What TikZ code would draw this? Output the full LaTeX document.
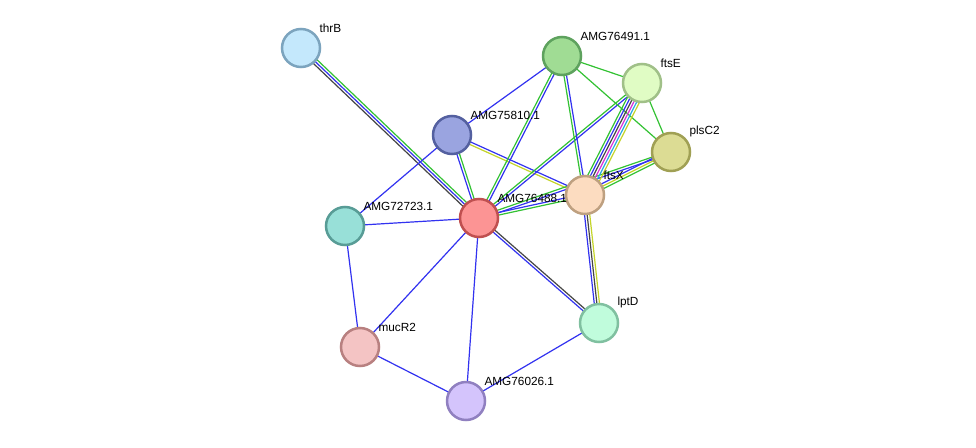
\documentclass[tikz,border=0pt]{standalone}
\usepackage{fontspec}
\setmainfont{Liberation Sans}
\usetikzlibrary{calc,backgrounds}
\definecolor{eblue}{HTML}{3232F0}
\definecolor{egreen}{HTML}{33C233}
\definecolor{egray}{HTML}{454545}
\definecolor{emag}{HTML}{D832D8}
\definecolor{ecyan}{HTML}{2AAAE0}
\definecolor{eyel}{HTML}{C4D428}
\tikzset{
  prot/.style={circle, minimum size=38pt, inner sep=0pt, line width=2.5pt},
  lab/.style={anchor=south west, inner sep=0pt, xshift=4pt, yshift=1pt, font=\fontsize{11.8}{14}\selectfont, text=black},
  edge/.style={line width=1.2pt},
}
\newcommand\medge[4]{%
  \foreach \c [count=\i] in {#4}{%
    \pgfmathsetmacro\off{((#3+1)/2-\i)*2.6}%
    \draw[edge,\c] ($(#1.center)!\off pt!90:(#2.center)$) -- ($(#2.center)!\off pt!-90:(#1.center)$);
  }}
\begin{document}
\begin{tikzpicture}[x=1pt,y=-1pt]
\useasboundingbox (0,0) rectangle (976,447);
\node[prot, fill={rgb,255:red,196;green,232;blue,252}, draw={rgb,255:red,124;green,164;blue,190}, label={[lab]north east:thrB}] (thrB) at (301,48) {};
\node[prot, fill={rgb,255:red,160;green,220;blue,148}, draw={rgb,255:red,94;green,162;blue,94}, label={[lab]north east:AMG76491.1}] (A91) at (562,56) {};
\node[prot, fill={rgb,255:red,224;green,252;blue,196}, draw={rgb,255:red,160;green,192;blue,136}, label={[lab]north east:ftsE}] (ftsE) at (642,83) {};
\node[prot, fill={rgb,255:red,220;green,220;blue,148}, draw={rgb,255:red,160;green,160;blue,84}, label={[lab]north east:plsC2}] (plsC2) at (671,152) {};
\node[prot, fill={rgb,255:red,154;green,164;blue,224}, draw={rgb,255:red,84;green,96;blue,160}, label={[lab]north east:AMG75810.1}] (A10) at (452,135) {};
\node[prot, fill={rgb,255:red,252;green,220;blue,192}, draw={rgb,255:red,190;green,160;blue,128}, label={[lab]north east:ftsX}] (ftsX) at (585,195) {};
\node[prot, fill={rgb,255:red,252;green,148;blue,148}, draw={rgb,255:red,192;green,80;blue,80}, label={[lab]north east:AMG76488.1}] (A88) at (479,218) {};
\node[prot, fill={rgb,255:red,152;green,224;blue,216}, draw={rgb,255:red,88;green,156;blue,150}, label={[lab]north east:AMG72723.1}] (A23) at (345,226) {};
\node[prot, fill={rgb,255:red,192;green,252;blue,220}, draw={rgb,255:red,128;green,192;blue,160}, label={[lab]north east:lptD}] (lptD) at (599,323) {};
\node[prot, fill={rgb,255:red,244;green,196;blue,196}, draw={rgb,255:red,184;green,128;blue,128}, label={[lab]north east:mucR2}] (mucR2) at (360,347) {};
\node[prot, fill={rgb,255:red,212;green,196;blue,252}, draw={rgb,255:red,144;green,128;blue,192}, label={[lab]north east:AMG76026.1}] (A26) at (466,401) {};
\begin{scope}[on background layer]
\fill[white] (0,0) rectangle (976,447);
\medge{thrB}{A88}{3}{egreen,eblue,egray}
\medge{A10}{A88}{2}{egreen,eblue}
\medge{A10}{A23}{1}{eblue}
\medge{A10}{A91}{1}{eblue}
\medge{A10}{ftsX}{2}{eblue,eyel}
\medge{A88}{A23}{1}{eblue}
\medge{A88}{A91}{2}{egreen,eblue}
\medge{A88}{ftsE}{2}{egreen,eblue}
\medge{A88}{ftsX}{2}{eblue,egreen}
\medge{A88}{plsC2}{2}{egreen,eblue}
\medge{A88}{lptD}{2}{egray,eblue}
\medge{A88}{mucR2}{1}{eblue}
\medge{A88}{A26}{1}{eblue}
\medge{A23}{mucR2}{1}{eblue}
\medge{mucR2}{A26}{1}{eblue}
\medge{A26}{lptD}{1}{eblue}
\medge{ftsX}{lptD}{3}{eyel,egray,eblue}
\medge{A91}{ftsX}{2}{eblue,egreen}
\medge{A91}{ftsE}{1}{egreen}
\medge{A91}{plsC2}{1}{egreen}
\medge{ftsE}{plsC2}{1}{egreen}
\medge{ftsE}{ftsX}{6}{eyel,ecyan,emag,egray,eblue,egreen}
\medge{plsC2}{ftsX}{3}{egreen,eyel,eblue}
\end{scope}
\end{tikzpicture}
\end{document}
